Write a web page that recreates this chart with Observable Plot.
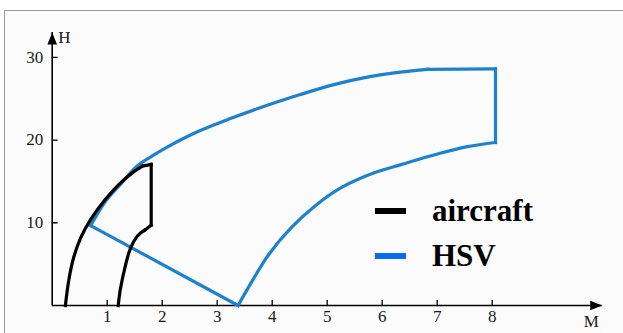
<!DOCTYPE html>
<html>
<head>
<meta charset="utf-8">
<script src="https://cdn.jsdelivr.net/npm/d3@7"></script>
<script src="https://cdn.jsdelivr.net/npm/@observablehq/plot@0.6"></script>
<style>
  html, body { margin: 0; padding: 0; background: #ffffff; }
  #wrap { position: relative; width: 623px; height: 333px; overflow: hidden; }
  #frame {
    position: absolute; left: 4px; top: 10px; right: -4px; bottom: -4px;
    background: #fbfbfb; border-top: 1.5px solid #9a9a9a; border-left: 1.5px solid #9a9a9a;
  }
  #chart { position: absolute; left: 0; top: 0; }
  #legend { position: absolute; left: 375px; top: 188px; font-family: "Liberation Serif", "Times New Roman", serif; font-weight: bold; font-size: 31px; color: #000; }
  .item { display: flex; align-items: center; height: 45px; }
  .swatch { width: 31px; height: 6px; margin-right: 26px; }
</style>
</head>
<body>
<div id="wrap">
  <div id="frame"></div>
  <div id="chart"></div>
  <div id="legend"></div>
</div>
<script>
// Flight envelopes: Mach number M vs altitude H (km)
const seriesNames = ["aircraft", "HSV"];
const seriesColors = ["#000000", "#1c82d0"];
const legendColors = ["#000000", "#0a6cf5"];

// Conventional aircraft envelope, traced as segments (curved boundaries and straight edges)
const aircraftSeg = ["c1", "c1", "c1", "c1", "c1", "c1", "c1", "c1", "c1",
                     "s1", "s1", "s2", "s2", "s3", "s3",
                     "c2", "c2", "c2", "c2", "c2", "c2"];
const aircraftM = [0.24, 0.30, 0.39, 0.52, 0.70, 0.95, 1.21, 1.45, 1.64,
                   1.64, 1.80, 1.80, 1.80, 1.80, 1.68,
                   1.68, 1.55, 1.42, 1.33, 1.24, 1.20];
const aircraftH = [0.0, 3.0, 5.8, 8.2, 10.4, 12.7, 14.6, 16.0, 16.85,
                   16.85, 17.05, 17.05, 9.7, 9.7, 9.1,
                   9.1, 8.4, 6.85, 4.8, 2.0, 0.0];

// Hypersonic vehicle envelope (closed outline)
const hsvSeg = ["c1", "c1", "c1", "c1", "c1", "c1", "c1", "c1", "c1", "c1", "c1", "c1", "c1", "c1",
                "s1", "s1", "s2", "s2",
                "c2", "c2", "c2", "c2", "c2", "c2", "c2", "c2", "c2", "c2", "c2",
                "s3", "s3"];
const hsvM = [0.70, 0.97, 1.26, 1.55, 1.80, 2.05, 2.64, 3.24, 3.91, 4.51, 5.12, 5.73, 6.33, 6.82,
              6.82, 8.06, 8.06, 8.06,
              8.06, 7.55, 6.94, 6.33, 5.88, 5.27, 4.79, 4.36, 3.94, 3.64, 3.38,
              3.38, 0.70];
const hsvH = [9.66, 12.6, 14.8, 16.9, 18.0, 19.0, 21.0, 22.6, 24.2, 25.5, 26.7, 27.6, 28.2, 28.55,
              28.55, 28.6, 28.6, 19.7,
              19.7, 19.2, 18.2, 17.0, 16.1, 14.3, 12.1, 9.5, 6.2, 3.0, 0.0,
              0.0, 9.66];

const xTicks = [1, 2, 3, 4, 5, 6, 7, 8];
const yTicks = [10, 20, 30];
const xLabel = "M";
const yLabel = "H";

const aircraft = aircraftM.map((m, i) => ({M: m, H: aircraftH[i], seg: aircraftSeg[i]}));
const hsv = hsvM.map((m, i) => ({M: m, H: hsvH[i], seg: hsvSeg[i]}));

const serif = "Liberation Serif, Times New Roman, serif";

// Short inward tick and filled arrowhead shapes for Plot.vector
const tickShape = {draw(ctx, l) { ctx.moveTo(0, 0); ctx.lineTo(0, -l); }};
const headShape = {draw(ctx, l) { ctx.moveTo(0, -l); ctx.lineTo(-4.8, 0); ctx.lineTo(4.8, 0); ctx.closePath(); }};

const envelope = (data, color) => Plot.line(data, {
  x: "M", y: "H", z: "seg", stroke: color, strokeWidth: 3.2,
  strokeLinecap: "square", strokeLinejoin: "miter", curve: "catmull-rom"
});

const chart = Plot.plot({
  width: 623,
  height: 333,
  marginLeft: 51.7,
  marginRight: 21.3,
  marginTop: 32,
  marginBottom: 28,
  style: {background: "transparent", fontFamily: serif},
  x: {domain: [0, 10]},
  y: {domain: [0, 33]},
  marks: [
    // axis lines
    Plot.ruleY([0], {stroke: "#000", strokeWidth: 1.6}),
    Plot.ruleX([0], {stroke: "#000", strokeWidth: 1.6}),
    // arrowheads at the ends of the axes
    Plot.vector([10], {x: d => d, y: 0, length: 12, rotate: 90, anchor: "end", shape: headShape, fill: "#000", stroke: "none"}),
    Plot.vector([33], {x: 0, y: d => d, length: 12, rotate: 0, anchor: "end", shape: headShape, fill: "#000", stroke: "none"}),
    // inward ticks
    Plot.vector(xTicks, {x: d => d, y: 0, length: 5, rotate: 0, anchor: "start", shape: tickShape, stroke: "#000", strokeWidth: 1.3}),
    Plot.vector(yTicks, {x: 0, y: d => d, length: 5, rotate: 90, anchor: "start", shape: tickShape, stroke: "#000", strokeWidth: 1.3}),
    // tick labels
    Plot.axisX(xTicks, {tickSize: 0, tickPadding: 4, fontSize: 17, fontFamily: serif, fill: "#1a1a1a", label: null}),
    Plot.axisY(yTicks, {tickSize: 0, tickPadding: 9, fontSize: 17, fontFamily: serif, fill: "#1a1a1a", label: null}),
    // axis names
    Plot.text([yLabel], {frameAnchor: "top-left", dx: 6, dy: -2, fontSize: 17, fontFamily: serif, fill: "#1a1a1a", textAnchor: "start"}),
    Plot.text([xLabel], {frameAnchor: "bottom-right", dx: -11, dy: 21, fontSize: 17, fontFamily: serif, fill: "#1a1a1a", textAnchor: "middle"}),
    // envelopes
    envelope(hsv, seriesColors[1]),
    envelope(aircraft, seriesColors[0])
  ]
});
document.getElementById("chart").appendChild(chart);

// Legend
const legend = document.getElementById("legend");
seriesNames.forEach((name, i) => {
  const item = document.createElement("div");
  item.className = "item";
  const sw = document.createElement("span");
  sw.className = "swatch";
  sw.style.background = legendColors[i];
  const label = document.createElement("span");
  label.textContent = name;
  item.appendChild(sw);
  item.appendChild(label);
  legend.appendChild(item);
});
</script>
</body>
</html>
